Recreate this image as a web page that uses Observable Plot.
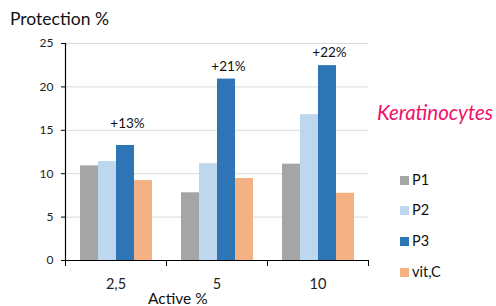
<!DOCTYPE html>
<html><head><meta charset="utf-8">
<script src="https://cdn.jsdelivr.net/npm/d3@7"></script>
<script src="https://cdn.jsdelivr.net/npm/@observablehq/plot@0.6"></script>
<style>
body{margin:0;background:#fff;font-family:Lato,"Open Sans",sans-serif;}
#wrap{position:relative;width:496px;height:306px;overflow:hidden;background:#fff}
.abs{position:absolute;white-space:nowrap;color:#111}
.sw{position:absolute;width:9px;height:9px}
</style></head><body><div id="wrap"></div>
<script>
const categories = ["2,5", "5", "10"];
const series = ["P1", "P2", "P3", "vit,C"];
const P1 = [10.9, 7.8, 11.1];
const P2 = [11.4, 11.15, 16.8];
const P3 = [13.25, 20.9, 22.45];
const vitC = [9.2, 9.45, 7.75];
const colors = ["#a5a5a5", "#bdd7ee", "#2e75b6", "#f4b183"];
const gainLabels = ["+13%", "+21%", "+22%"];
const gainLabelY = [15.8, 22.3, 24.0];
const yTicks = [0, 5, 10, 15, 20, 25];
const titleText = "Protection %";
const xTitle = "Active %";
const sideNote = "Keratinocytes";

const valuesBySeries = [P1, P2, P3, vitC];
const data = [];
categories.forEach((c, i) => series.forEach((s, j) => data.push({category: c, series: s, value: valuesBySeries[j][i]})));
const labels = categories.map((c, i) => ({category: c, series: "P3", text: gainLabels[i], y: gainLabelY[i]}));

const W = 496, H = 306, mL = 65, mR = 128, mT = 43, mB = 46;
const plotH = H - mT - mB;

const chart = Plot.plot({
  width: W, height: H,
  marginLeft: mL, marginRight: mR, marginTop: mT, marginBottom: mB,
  style: {fontFamily: "Lato, 'Open Sans', sans-serif", background: "transparent", color: "#222"},
  fx: {domain: categories, padding: 0, label: null, axis: null},
  x: {domain: series, paddingInner: 0, paddingOuter: 0.73, axis: null},
  y: {domain: [0, 25], label: null, axis: null},
  color: {domain: series, range: colors},
  marks: [
    Plot.gridY(yTicks, {stroke: "#d9d9d9", strokeOpacity: 1, strokeWidth: 1}),
    Plot.barY(data, {fx: "category", x: "series", y: "value", fill: "series"}),
    Plot.text(labels, {fx: "category", x: "series", y: "y", text: "text", fontSize: 13.5, fill: "#111", dx: 2}),
    Plot.ruleY([0], {stroke: "#000", strokeWidth: 1.2}),
    Plot.frame({anchor: "left", facetAnchor: "left", stroke: "#000", strokeWidth: 1.2}),
    Plot.frame({anchor: "left", insetTop: plotH, insetBottom: -5, stroke: "#000"}),
    Plot.frame({anchor: "right", insetTop: plotH, insetBottom: -5, stroke: "#000"}),
    Plot.axisY(yTicks, {tickSize: 4, tickPadding: 8, fontSize: 12, label: null, stroke: "#000"}),
    Plot.axisFx({anchor: "bottom", tickSize: 0, tickPadding: 18, fontSize: 14.5, label: null})
  ]
});

const wrap = document.getElementById("wrap");
wrap.appendChild(chart);

function addText(txt, left, centerY, size, extra) {
  const d = document.createElement("div");
  d.className = "abs";
  d.textContent = txt;
  d.style.left = left + "px";
  d.style.top = (centerY - size * 0.6) + "px";
  d.style.fontSize = size + "px";
  d.style.lineHeight = (size * 1.2) + "px";
  Object.assign(d.style, extra || {});
  wrap.appendChild(d);
  return d;
}
addText(titleText, 10, 18, 17.5);
const at = addText(xTitle, 0, 298, 15.5);
at.style.left = (178 - at.offsetWidth / 2) + "px";
addText(sideNote, 377, 112, 20.5, {fontStyle: "italic", color: "#f0106a"});

const legendY = [180, 210, 241, 272];
series.forEach((s, i) => {
  const sw = document.createElement("div");
  sw.className = "sw";
  sw.style.left = "400px";
  sw.style.top = (legendY[i] - 4.5) + "px";
  sw.style.background = colors[i];
  wrap.appendChild(sw);
  addText(s, 412, legendY[i], 14.5);
});
</script>
</body></html>
